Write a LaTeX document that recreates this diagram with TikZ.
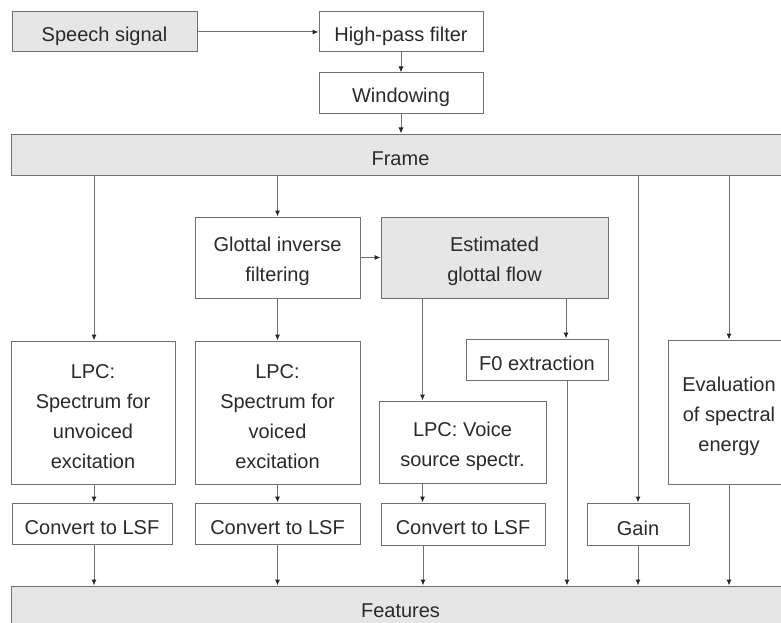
\documentclass[tikz,border=0pt]{standalone}
\usepackage{fontspec}
\setmainfont{Liberation Sans}
\usetikzlibrary{arrows.meta,calc}
\definecolor{boxfill}{HTML}{E6E6E6}
\definecolor{linecol}{HTML}{707070}
\definecolor{txtcol}{HTML}{2A2A2A}
\tikzset{
  box/.style={draw=linecol, line width=1pt, fill=white, inner sep=0pt,
    label={[lab]center:{#1}}},
  gbox/.style={box={#1}, fill=boxfill},
  lab/.style={inner sep=0pt, align=center, yshift=-4pt, text=txtcol,
    font=\fontsize{20}{30}\selectfont},
  arr/.style={draw=linecol, line width=1pt, -{Latex[length=6pt,width=5pt,color=black!85]}},
}
\begin{document}
\begin{tikzpicture}[x=1pt,y=-1pt]
\useasboundingbox (0,0) rectangle (781,623);
\clip (0,0) rectangle (781,623);
\fill[white] (0,0) rectangle (781,623);
\node[gbox={Speech signal}, minimum width=185pt, minimum height=40pt] (speech) at (104.5,32) {};
\node[box={High-pass filter}, minimum width=164pt, minimum height=40pt] (hpf) at (401,32) {};
\node[box={Windowing}, minimum width=164pt, minimum height=41pt] (win) at (401,93.5) {};
\node[gbox={Frame}, minimum width=779pt, minimum height=41pt] (frame) at (400.5,154.5) {};
\node[box={Glottal inverse\\filtering}, minimum width=165pt, minimum height=81pt] (gif) at (277.5,257.5) {};
\node[gbox={Estimated\\glottal flow}, minimum width=227pt, minimum height=81pt] (egf) at (494.5,257.5) {};
\node[box={LPC:\\Spectrum for\\unvoiced\\excitation}, minimum width=164pt, minimum height=143pt] (lpcu) at (93,412.5) {};
\node[box={LPC:\\Spectrum for\\voiced\\excitation}, minimum width=165pt, minimum height=143pt] (lpcv) at (277.5,412.5) {};
\node[box={F0 extraction}, minimum width=142pt, minimum height=41pt] (f0) at (537,359.5) {};
\node[box={Evaluation\\of spectral\\energy}, minimum width=122pt, minimum height=144pt] (eval) at (729,412) {};
\node[box={LPC: Voice\\source spectr.}, minimum width=167pt, minimum height=82pt] (lpcs) at (462.5,442) {};
\node[box={Convert to LSF}, minimum width=160pt, minimum height=41pt] (c1) at (92,523.5) {};
\node[box={Convert to LSF}, minimum width=165pt, minimum height=41pt] (c2) at (277.5,523.5) {};
\node[box={Convert to LSF}, minimum width=164pt, minimum height=42pt] (c3) at (463,524) {};
\node[box={Gain}, minimum width=102pt, minimum height=42pt] (gain) at (638,524) {};
\node[gbox={Features}, minimum width=779pt, minimum height=41pt] (feat) at (400.5,606.5) {};
% connectors
\draw[arr] (speech.east) -- (hpf.west);
\draw[arr] (hpf.south) -- (win.north);
\draw[arr] (win.south) -- (win.south |- frame.north);
\draw[arr] ([xshift=1pt]lpcu.north |- frame.south) -- ([xshift=1pt]lpcu.north);
\draw[arr] (gif.north |- frame.south) -- (gif.north);
\draw[arr] (gif.east) -- (egf.west);
\draw[arr] (gif.south) -- (lpcv.north);
\draw[arr] ([xshift=-40pt]lpcs.north |- egf.south) -- ([xshift=-40pt]lpcs.north);
\draw[arr] ([xshift=29pt]f0.north |- egf.south) -- ([xshift=29pt]f0.north);
\draw[arr] (gain.north |- frame.south) -- (gain.north);
\draw[arr] (eval.north |- frame.south) -- (eval.north);
\draw[arr] ([xshift=2pt]c1.north |- lpcu.south) -- ([xshift=2pt]c1.north);
\draw[arr] (lpcv.south) -- (c2.north);
\draw[arr] ([xshift=-40pt]lpcs.south) -- ([xshift=-40pt]c3.north -| lpcs.south);
\draw[arr] ([xshift=2pt]c1.south) -- ([xshift=2pt]c1.south |- feat.north);
\draw[arr] (c2.south) -- (c2.south |- feat.north);
\draw[arr] ([xshift=-40pt]c3.south) -- ([xshift=-40pt]c3.south |- feat.north);
\draw[arr] ([xshift=30pt]f0.south) -- ([xshift=30pt]f0.south |- feat.north);
\draw[arr] (gain.south) -- (gain.south |- feat.north);
\draw[arr] (eval.south) -- (eval.south |- feat.north);
\end{tikzpicture}
\end{document}
